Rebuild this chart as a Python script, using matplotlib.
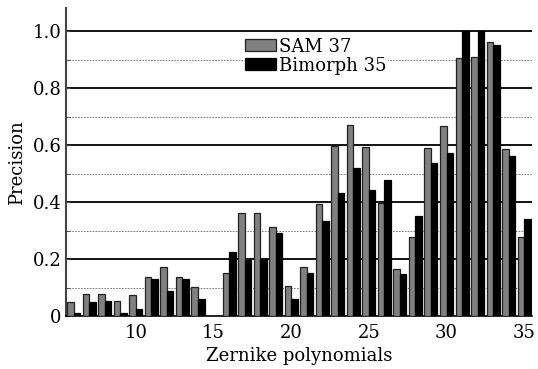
import numpy as np
from matplotlib import pyplot as plt

# Zernike polynomial index 6..35
modes = np.arange(6, 36)
sam37 = [0.048, 0.076, 0.076, 0.053, 0.073, 0.137, 0.173, 0.138, 0.102, 0.0,
         0.150, 0.360, 0.360, 0.313, 0.105, 0.171, 0.392, 0.596, 0.669, 0.593,
         0.395, 0.164, 0.278, 0.591, 0.667, 0.906, 0.909, 0.962, 0.586, 0.276]
bimorph35 = [0.010, 0.050, 0.054, 0.010, 0.023, 0.129, 0.089, 0.131, 0.060, 0.0,
             0.226, 0.196, 0.201, 0.292, 0.060, 0.150, 0.333, 0.433, 0.518, 0.441,
             0.477, 0.149, 0.351, 0.538, 0.572, 1.0, 1.0, 0.952, 0.562, 0.341]
xticks = [10, 15, 20, 25, 30, 35]
yticks = [0, 0.2, 0.4, 0.6, 0.8, 1.0]
ytick_labels = ['0', '0.2', '0.4', '0.6', '0.8', '1.0']

plt.rcParams['font.family'] = ['DejaVu Serif']

fig = plt.figure(figsize=(5.38, 3.69), dpi=100)
ax = fig.add_axes([0.1227, 0.1436, 0.866, 0.834])

# Grid lines: solid at 0.2 steps, dashed at the odd tenths
for y in [0.2, 0.4, 0.6, 0.8, 1.0]:
    ax.axhline(y, color='black', lw=1.3, zorder=1)
for y in [0.1, 0.3, 0.5, 0.7, 0.9]:
    ax.axhline(y, color='#666666', lw=0.6, ls=(0, (2, 1.5)), zorder=1)

w = 0.42
ax.bar(modes - w / 2, sam37, width=w, color='#808080', edgecolor='#222222',
       linewidth=0.9, label='SAM 37', zorder=3)
ax.bar(modes + w / 2, bimorph35, width=w, color='black', edgecolor='black',
       linewidth=0.9, label='Bimorph 35', zorder=3)

ax.set_xlim(5.5, 35.5)
ax.set_ylim(0, 1.08)
ax.set_xticks(xticks)
ax.set_yticks(yticks)
ax.set_yticklabels(ytick_labels)
ax.set_yticks(np.arange(0.1, 1.0, 0.2), minor=True)
ax.tick_params(axis='x', length=0, labelsize=13, pad=6)
ax.tick_params(axis='y', which='both', direction='in', length=3, labelsize=13,
               color='#444444', pad=3)

for s in ['top', 'right']:
    ax.spines[s].set_visible(False)
ax.spines['left'].set_color('#444444')
ax.spines['left'].set_linewidth(1.5)
ax.spines['bottom'].set_color('black')
ax.spines['bottom'].set_linewidth(1.2)

ax.set_xlabel('Zernike polynomials', fontsize=13, labelpad=3)
ax.set_ylabel('Precision', fontsize=13, labelpad=5)

leg = ax.legend(loc='upper left', bbox_to_anchor=(243 / 538, 1 - 36 / 369),
                bbox_transform=fig.transFigure, fontsize=13, frameon=True,
                handlelength=1.75, handleheight=0.65, handletextpad=0.15,
                labelspacing=0.05, borderpad=0.1, borderaxespad=0)
leg.get_frame().set_edgecolor('none')
leg.get_frame().set_facecolor('white')
leg.get_frame().set_alpha(1)
leg.set_zorder(5)

plt.savefig('out.png', dpi=100)
